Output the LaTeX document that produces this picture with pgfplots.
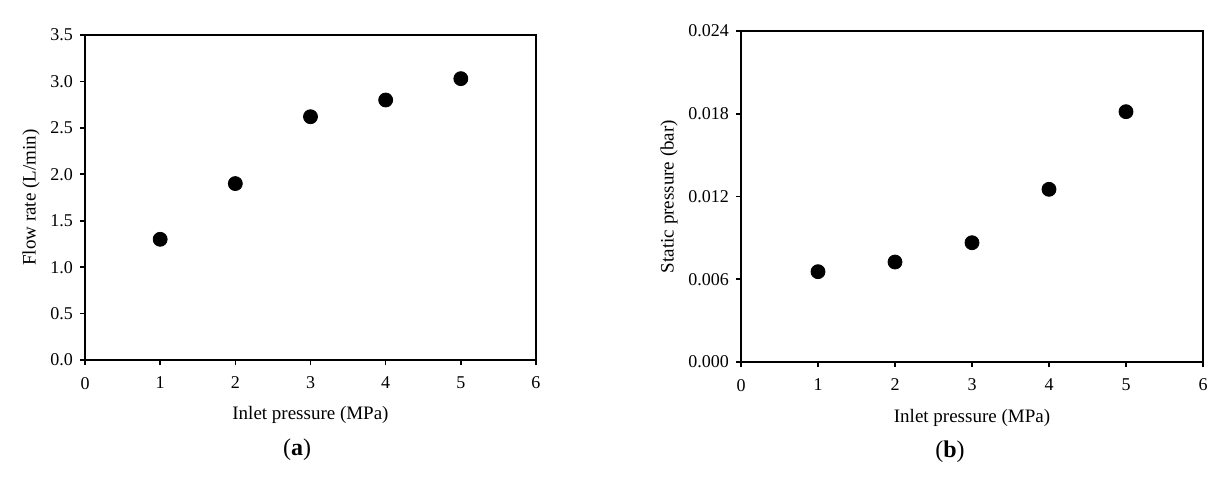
\documentclass[border=0pt]{standalone}
\usepackage{fontspec}
\setmainfont{Liberation Serif}
\usepackage{pgfplots}
\pgfplotsset{compat=1.18}

\pgfplotsset{
  panel/.style={
    scale only axis, axis line style={line width=1pt}, anchor=south west,
    xmin=0, xmax=6, xtick={0,...,6},
    xtick pos=bottom, ytick pos=left, tick align=outside,
    major tick length=2.5pt, major tick style={line width=0.8pt, black},
    /pgf/number format/assume math mode=true,
    tick label style={font=\fontsize{9}{10}\selectfont},
    xticklabel style={yshift=-2.5pt},
    label style={font=\fontsize{9.5}{11}\selectfont},
    xlabel={Inlet pressure (MPa)},
  },
  dots/.style={only marks, mark=*, mark size=3.5pt, black},
}

\begin{document}
\begin{tikzpicture}
\path[use as bounding box] (0,0) rectangle (612.5pt,239pt);

% (a) flow rate
\begin{axis}[panel, at={(42.5pt,59pt)}, width=225.5pt, height=162.5pt,
  ymin=0, ymax=3.5, ytick={0,0.5,...,3.5},
  yticklabel style={/pgf/number format/.cd, fixed, fixed zerofill, precision=1},
  ylabel={Flow rate (L/min)},
  xlabel style={at={(axis description cs:0.5,0)}, anchor=center, yshift=-27.5pt},
  ylabel style={at={(axis description cs:0,0.5)}, anchor=center, yshift=27pt},
]
\addplot[dots] coordinates {(1,1.30) (2,1.90) (3,2.62) (4,2.80) (5,3.03)};
\end{axis}
\node[font=\fontsize{12}{14}\selectfont] at (148.5pt,14pt) {(\textbf{a})};

% (b) static pressure
\begin{axis}[panel, at={(370.5pt,58pt)}, width=231pt, height=165.5pt,
  ymin=0, ymax=0.024, ytick={0,0.006,0.012,0.018,0.024},
  scaled y ticks=false,
  yticklabel style={/pgf/number format/.cd, fixed, fixed zerofill, precision=3},
  ylabel={Static pressure (bar)},
  xlabel style={at={(axis description cs:0.5,0)}, anchor=center, yshift=-28pt},
  ylabel style={at={(axis description cs:0,0.5)}, anchor=center, yshift=36pt},
]
\addplot[dots] coordinates {(1,0.00655) (2,0.00725) (3,0.00865) (4,0.01252) (5,0.01815)};
\end{axis}
\node[font=\fontsize{12}{14}\selectfont] at (475pt,13pt) {(\textbf{b})};
\end{tikzpicture}
\end{document}
